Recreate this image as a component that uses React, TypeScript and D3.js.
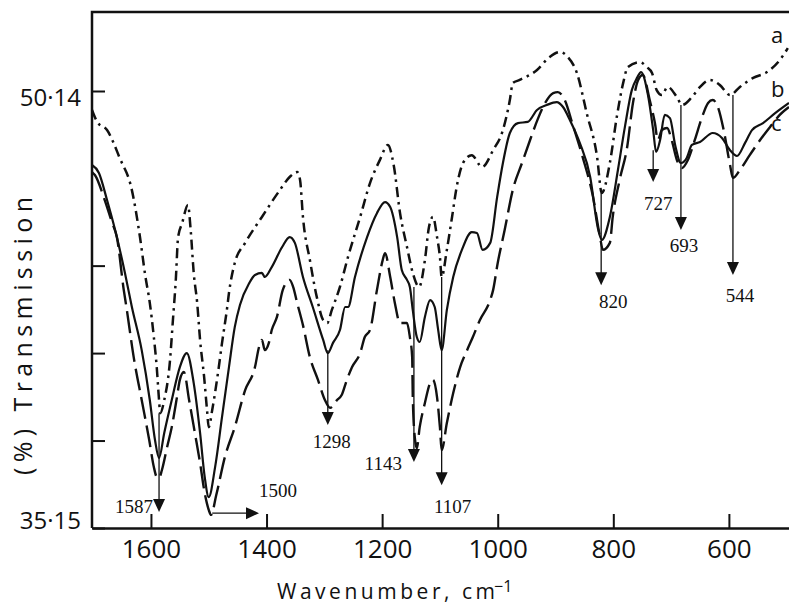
import React, { useEffect, useRef } from "react";
import * as d3 from "d3";

// spectrum a (dash-dot) : [wavenumber, % transmission]
const curveA: [number, number][] = [
  [1702, 49.49], [1693, 49.08], [1676, 48.8], [1654, 47.84], [1633, 46.74], [1619, 45.13],
  [1610, 43.83], [1602, 42.87], [1595, 41.7], [1590, 40.67], [1586, 39.54], [1584, 39.09],
  [1577, 39.54], [1567, 40.91], [1562, 42.28], [1557, 43.66], [1553, 45.13], [1546, 45.61],
  [1536, 46.23], [1531, 45.3], [1526, 43.9], [1520, 42.87], [1515, 41.6], [1508, 40.33],
  [1503, 39.2], [1500, 38.61], [1494, 39.2], [1484, 40.47], [1477, 41.5], [1468, 42.73],
  [1465, 43.21], [1455, 44.24], [1437, 44.93], [1408, 45.82], [1377, 46.74], [1360, 47.19],
  [1347, 47.36], [1342, 47.09], [1337, 45.82], [1325, 44.34], [1313, 43.07], [1302, 42.28],
  [1295, 42.18], [1287, 42.63], [1273, 43.42], [1259, 44.45], [1238, 45.82], [1221, 46.98],
  [1204, 47.77], [1190, 48.29], [1180, 47.6], [1169, 45.95], [1157, 44.79], [1147, 43.9],
  [1136, 43.42], [1126, 44.34], [1119, 45.47], [1112, 45.82], [1105, 45.13], [1100, 44.45],
  [1097, 43.76], [1088, 44.69], [1079, 45.82], [1071, 46.85], [1060, 47.67], [1045, 47.94],
  [1027, 47.53], [1008, 48.11], [991, 48.8], [979, 49.83], [974, 50.41], [962, 50.52],
  [932, 50.86], [910, 51.31], [892, 51.48], [879, 51.31], [863, 50.76], [846, 49.38],
  [828, 47.87], [820, 46.64], [806, 47.67], [794, 49.25], [783, 50.41], [775, 50.96],
  [754, 51.13], [742, 50.96], [733, 50.76], [725, 50.17], [716, 50.0], [706, 50.28],
  [690, 49.93], [681, 49.66], [664, 49.93], [650, 50.28], [633, 50.52], [616, 50.35],
  [598, 50.0], [581, 50.28], [558, 50.59], [534, 50.79], [512, 51.2], [498, 51.61],
];

// spectrum b (solid)
const curveB: [number, number][] = [
  [1702, 47.6], [1690, 47.33], [1676, 46.4], [1662, 45.37], [1645, 43.9], [1633, 42.73],
  [1616, 41.25], [1602, 39.54], [1593, 38.17], [1586, 37.55], [1577, 38.41], [1564, 39.54],
  [1550, 40.67], [1538, 41.15], [1526, 40.12], [1515, 38.41], [1507, 36.9], [1500, 36.21],
  [1489, 37.24], [1477, 38.96], [1465, 40.67], [1455, 42.04], [1446, 42.8], [1430, 43.55],
  [1420, 43.83], [1408, 43.9], [1403, 43.76], [1391, 44.1], [1373, 44.79], [1360, 45.13],
  [1351, 44.93], [1337, 43.76], [1320, 42.73], [1302, 41.6], [1294, 41.15], [1285, 41.5],
  [1273, 41.94], [1264, 42.73], [1259, 42.73], [1247, 43.76], [1226, 45.13], [1209, 45.95],
  [1195, 46.33], [1186, 46.16], [1174, 45.13], [1166, 44.0], [1157, 43.66], [1152, 43.42],
  [1147, 42.63], [1140, 41.7], [1135, 41.53], [1126, 42.39], [1117, 42.97], [1109, 42.73],
  [1103, 41.94], [1097, 41.25], [1088, 42.63], [1077, 43.76], [1062, 44.69], [1045, 45.3],
  [1036, 45.27], [1026, 44.69], [1013, 44.93], [1001, 46.5], [991, 47.67], [979, 48.7],
  [965, 49.04], [948, 49.08], [932, 49.49], [915, 49.66], [898, 49.76], [887, 49.59],
  [875, 49.14], [858, 48.36], [840, 47.19], [827, 45.47], [820, 45.03], [806, 45.82],
  [792, 47.43], [780, 48.9], [768, 50.17], [759, 50.59], [752, 50.79], [740, 50.0],
  [731, 48.8], [726, 48.05], [719, 48.46], [711, 49.32], [702, 49.21], [693, 48.29],
  [683, 47.67], [673, 47.84], [664, 48.29], [650, 48.39], [628, 48.7], [612, 48.53],
  [598, 48.11], [586, 47.91], [572, 48.36], [560, 48.8], [541, 49.04], [520, 49.38],
  [496, 49.73],
];

// spectrum c (dashed)
const curveC: [number, number][] = [
  [1702, 47.36], [1697, 47.26], [1680, 46.4], [1667, 45.61], [1659, 45.13], [1647, 43.31],
  [1643, 42.8], [1629, 40.91], [1616, 39.54], [1603, 38.17], [1595, 37.24], [1590, 36.9],
  [1586, 36.86], [1581, 37.14], [1572, 37.93], [1564, 38.61], [1555, 39.64], [1550, 40.23],
  [1543, 40.5], [1534, 39.54], [1524, 38.41], [1515, 37.38], [1507, 36.35], [1500, 35.77],
  [1496, 35.6], [1487, 36.28], [1472, 37.59], [1455, 38.61], [1437, 39.88], [1420, 40.67],
  [1413, 41.36], [1408, 41.6], [1403, 41.25], [1396, 41.5], [1391, 41.94], [1382, 42.39],
  [1372, 43.31], [1360, 43.66], [1354, 43.42], [1347, 42.87], [1337, 42.11], [1325, 41.01],
  [1311, 40.23], [1299, 39.54], [1290, 39.27], [1278, 39.54], [1270, 39.71], [1261, 40.23],
  [1252, 40.67], [1238, 41.15], [1230, 41.7], [1221, 41.94], [1209, 43.31], [1199, 44.34],
  [1195, 44.58], [1186, 43.76], [1178, 42.87], [1169, 42.18], [1157, 42.18], [1152, 41.7],
  [1148, 41.01], [1147, 39.64], [1143, 38.17], [1140, 37.89], [1135, 38.61], [1126, 39.44],
  [1117, 40.12], [1112, 40.23], [1105, 39.64], [1100, 38.61], [1097, 37.82], [1088, 38.75],
  [1077, 39.78], [1065, 40.67], [1053, 41.25], [1043, 41.7], [1031, 42.28], [1013, 42.97],
  [1008, 43.31], [1000, 44.24], [988, 45.37], [974, 46.74], [958, 47.67], [944, 48.46],
  [930, 49.21], [918, 49.73], [904, 50.07], [896, 50.1], [884, 49.83], [870, 48.97],
  [853, 47.87], [835, 46.5], [823, 45.13], [818, 44.69], [806, 44.93], [801, 45.82],
  [789, 47.09], [776, 48.22], [766, 49.73], [757, 50.52], [749, 50.69], [737, 49.83],
  [728, 49.04], [723, 48.46], [716, 48.8], [707, 48.87], [699, 48.46], [690, 47.77],
  [681, 47.5], [671, 47.77], [659, 48.46], [647, 49.21], [636, 49.73], [628, 49.83],
  [619, 49.59], [609, 48.8], [598, 47.6], [593, 47.16], [581, 47.43], [564, 47.94],
  [546, 48.46], [529, 48.9], [512, 49.32], [496, 49.59],
];

const seriesNames = ["a", "b", "c"];
const seriesEnd = [51.61, 49.73, 49.59];

const xTicks = [1600, 1400, 1200, 1000, 800, 600];
const yTicks = [35.15, 38.15, 41.15, 44.15, 50.14];
const yTickText: Record<string, string> = { "35.15": "35·15", "50.14": "50·14" };

// marked bands: label, where the arrow is drawn, arrow start and arrow tip (% T)
const peakLabels = ["1587", "1298", "1143", "1107", "820", "727", "693", "544"];
const peakAt = [1586, 1294, 1145, 1097, 821, 731, 683, 593];
const peakFrom = [39.09, 41.25, 43.42, 43.76, 46.64, 48.11, 49.66, 50.0];
const peakTip = [35.7, 38.68, 37.41, 36.62, 43.48, 47.02, 45.37, 43.83];

// the 1500 band is marked with a sideways arrow
const shiftLabel = "1500";
const shiftFrom = 1494;
const shiftTo = 1413;
const shiftT = 35.66;

// label placement (px) relative to the arrow tip
const peakLabelPos: Record<string, [number, number, string]> = {
  "1587": [-6, 1, "end"],
  "1298": [4, 23, "middle"],
  "1143": [-12, 8, "end"],
  "1107": [11, 28, "middle"],
  "820": [12, 23, "middle"],
  "727": [5, 28, "middle"],
  "693": [3, 22, "middle"],
  "544": [7, 27, "middle"],
};

export default function App() {
  const ref = useRef<SVGSVGElement>(null);

  useEffect(() => {
    const width = 789;
    const height = 610;
    const margin = { top: 12, right: 0, bottom: 82, left: 92 };
    const svg = d3.select(ref.current);
    svg.selectAll("*").remove();

    const x = d3
      .scaleLinear()
      .domain([1702, 496])
      .range([margin.left, width - margin.right]);
    const y = d3
      .scaleLinear()
      .domain([35.15, 52.85])
      .range([height - margin.bottom, margin.top]);

    const bottom = height - margin.bottom;
    const sans = "'Open Sans', 'DejaVu Sans', sans-serif";
    const serif = "'Liberation Serif', 'DejaVu Serif', serif";

    // frame: left and top edge
    svg
      .append("path")
      .attr("d", `M${margin.left},${bottom}V${margin.top}H${width}`)
      .attr("fill", "none")
      .attr("stroke", "#111")
      .attr("stroke-width", 2.5);

    // x axis
    const gx = svg
      .append("g")
      .attr("transform", `translate(0,${bottom})`)
      .call(
        d3
          .axisBottom(x)
          .tickValues(xTicks)
          .tickSizeInner(-14)
          .tickSizeOuter(0)
          .tickFormat(d3.format("d"))
      );
    gx.select(".domain").attr("stroke", "#111").attr("stroke-width", 2.5);
    gx.selectAll(".tick line").attr("stroke", "#111").attr("stroke-width", 2);
    gx.selectAll(".tick text")
      .attr("y", 30)
      .attr("dy", 0)
      .attr("fill", "#111")
      .style("font-family", sans)
      .style("font-size", "26px");

    // y axis
    const gy = svg
      .append("g")
      .attr("transform", `translate(${margin.left},0)`)
      .call(
        d3
          .axisLeft(y)
          .tickValues(yTicks)
          .tickSizeInner(-13)
          .tickSizeOuter(0)
          .tickFormat((d) => yTickText[String(d)] ?? "")
      );
    gy.select(".domain").remove();
    gy.selectAll(".tick line").attr("stroke", "#111").attr("stroke-width", 2);
    gy.selectAll<SVGTextElement, number>(".tick text")
      .attr("x", -11)
      .attr("dy", 0)
      .attr("y", (d) => (d > 45 ? 14 : 0))
      .attr("fill", "#111")
      .style("font-family", sans)
      .style("font-size", "24px");

    // axis titles
    const xt = svg
      .append("text")
      .attr("x", 277)
      .attr("y", 599)
      .attr("fill", "#111")
      .style("font-family", sans)
      .style("font-size", "21px");
    xt.append("tspan").attr("textLength", 218).attr("lengthAdjust", "spacing").text("Wavenumber, cm");
    xt.append("tspan").attr("x", 494).attr("y", 592).style("font-size", "16px").text("−1");

    svg
      .append("text")
      .attr("transform", "translate(32,336) rotate(-90)")
      .attr("text-anchor", "middle")
      .attr("textLength", 278)
      .attr("lengthAdjust", "spacing")
      .attr("fill", "#111")
      .style("font-family", sans)
      .style("font-size", "25px")
      .text("(%) Transmission");

    // spectra
    const line = d3
      .line<[number, number]>()
      .x((d) => x(d[0]))
      .y((d) => y(d[1]))
      .curve(d3.curveMonotoneX);

    const curves = [curveA, curveB, curveC];
    const dashes = ["10,5,2.5,5", null, "22,7"];
    const widths = [2.5, 2.2, 2.4];

    svg
      .append("g")
      .selectAll("path")
      .data(curves)
      .join("path")
      .attr("d", (d) => line(d))
      .attr("fill", "none")
      .attr("stroke", "#111")
      .attr("stroke-width", (_, i) => widths[i])
      .attr("stroke-linejoin", "round")
      .attr("stroke-dasharray", (_, i) => dashes[i]);

    // curve names
    const nameDy = [-5, -6, 24];
    svg
      .append("g")
      .selectAll("text")
      .data(seriesNames)
      .join("text")
      .attr("x", 771)
      .attr("y", (_, i) => y(seriesEnd[i]) + nameDy[i])
      .attr("fill", "#111")
      .style("font-family", sans)
      .style("font-size", "22px")
      .text((d) => d);

    // band arrows
    const headW = 6;
    const headH = 13;
    const ann = svg.append("g").attr("fill", "#111").attr("stroke", "#111");
    peakLabels.forEach((lab, i) => {
      const px = x(peakAt[i]);
      const top = y(peakFrom[i]);
      const tip = y(peakTip[i]);
      ann
        .append("line")
        .attr("x1", px)
        .attr("x2", px)
        .attr("y1", top)
        .attr("y2", tip - headH + 1)
        .attr("stroke-width", 1.3);
      ann
        .append("path")
        .attr("stroke", "none")
        .attr("d", `M${px - headW},${tip - headH}L${px + headW},${tip - headH}L${px},${tip}Z`);
      const [dx, dy, anchor] = peakLabelPos[lab];
      ann
        .append("text")
        .attr("stroke", "none")
        .attr("x", px + dx)
        .attr("y", tip + dy)
        .attr("text-anchor", anchor)
        .style("font-family", serif)
        .style("font-size", "19px")
        .text(lab);
    });

    const sx1 = x(shiftFrom);
    const sx2 = x(shiftTo);
    const sy = y(shiftT);
    ann
      .append("line")
      .attr("x1", sx1)
      .attr("x2", sx2 - headH + 1)
      .attr("y1", sy)
      .attr("y2", sy)
      .attr("stroke-width", 1.3);
    ann
      .append("path")
      .attr("stroke", "none")
      .attr("d", `M${sx2 - headH},${sy - headW}L${sx2 - headH},${sy + headW}L${sx2},${sy}Z`);
    ann
      .append("text")
      .attr("stroke", "none")
      .attr("x", sx2 + 19)
      .attr("y", sy - 16)
      .attr("text-anchor", "middle")
      .style("font-family", serif)
      .style("font-size", "19px")
      .text(shiftLabel);
  }, []);

  return (
    <svg
      ref={ref}
      width={789}
      height={610}
      style={{ position: "absolute", left: 0, top: 0, background: "#fff" }}
    />
  );
}
